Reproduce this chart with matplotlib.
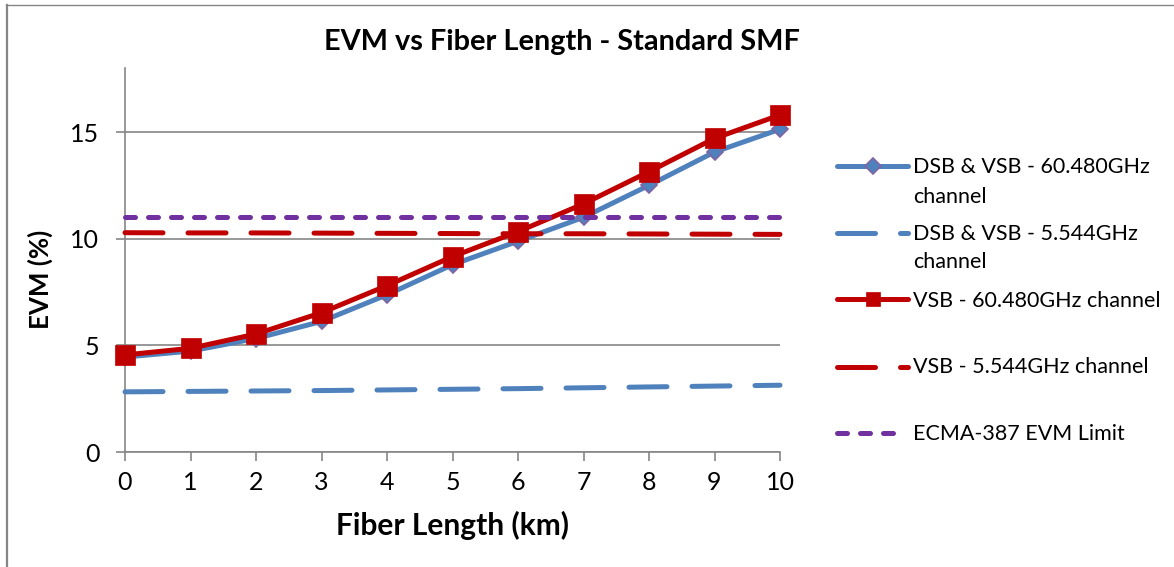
import matplotlib
matplotlib.use("Agg")
import matplotlib.pyplot as plt
from matplotlib.lines import Line2D

# ---- data -------------------------------------------------------------
fiber_km = [0, 1, 2, 3, 4, 5, 6, 7, 8, 9, 10]
evm_dsb_vsb_60g = [4.45, 4.73, 5.32, 6.12, 7.37, 8.78, 9.88, 11.00, 12.50, 14.06, 15.13]
evm_dsb_vsb_5g = [2.82, 2.84, 2.86, 2.88, 2.91, 2.94, 2.97, 3.01, 3.05, 3.09, 3.13]
evm_vsb_60g = [4.55, 4.86, 5.53, 6.53, 7.80, 9.16, 10.33, 11.63, 13.14, 14.70, 15.80]
evm_vsb_5g = [10.28, 10.27, 10.27, 10.26, 10.25, 10.24, 10.23, 10.23, 10.22, 10.21, 10.20]
ecma_limit = [11.0, 11.0, 11.0, 11.0, 11.0, 11.0, 11.0, 11.0, 11.0, 11.0, 11.0]

series_labels = [
    ["DSB & VSB - 60.480GHz", "channel"],
    ["DSB & VSB - 5.544GHz", "channel"],
    ["VSB - 60.480GHz channel"],
    ["VSB - 5.544GHz channel"],
    ["ECMA-387 EVM Limit"],
]
x_ticks = [0, 1, 2, 3, 4, 5, 6, 7, 8, 9, 10]
y_ticks = [0, 5, 10, 15]

title = "EVM vs Fiber Length - Standard SMF"
x_label = "Fiber Length (km)"
y_label = "EVM (%)"

# ---- style ------------------------------------------------------------
BLUE = "#4F81BD"
RED = "#C00000"
PURPLE = "#7030A0"
DIAMOND_EDGE = "#8064A2"
GRID = "#868686"
FONT = ["Lato", "DejaVu Sans"]

W, H = 1174, 567
plt.rcParams["font.family"] = FONT

fig = plt.figure(figsize=(W / 100, H / 100), dpi=100)


def fx(px):
    return px / W


def fy(py):
    return 1 - py / H


ax = fig.add_axes([fx(125), fy(452), fx(780) - fx(125), fy(68) - fy(452)])

LW = 3.6
long_dash = (7.6, 5.0)
short_dash = (2.0, 2.6)

styles = [
    dict(color=BLUE, lw=LW, marker="D", ms=8, mfc=BLUE, mec=DIAMOND_EDGE, mew=1.2,
         solid_capstyle="round", solid_joinstyle="round"),
    dict(color=BLUE, lw=LW, dashes=long_dash, dash_capstyle="round"),
    dict(color=RED, lw=LW, marker="s", ms=14, mfc=RED, mec=RED, mew=0.5,
         solid_capstyle="round", solid_joinstyle="round"),
    dict(color=RED, lw=LW, dashes=long_dash, dash_capstyle="round"),
    dict(color=PURPLE, lw=LW, dashes=short_dash, dash_capstyle="round"),
]
legend_marker_size = [8, None, 10.5, None, None]
series = [evm_dsb_vsb_60g, evm_dsb_vsb_5g, evm_vsb_60g, evm_vsb_5g, ecma_limit]

for i, (vals, st) in enumerate(zip(series, styles)):
    ax.plot(fiber_km, vals, clip_on=False, zorder=3 + i, **st)

ax.set_xlim(0, 10)
ax.set_ylim(0, 18)
ax.set_xticks(x_ticks)
ax.set_yticks(y_ticks)
ax.set_xticklabels([str(v) for v in x_ticks])
ax.set_yticklabels([str(v) for v in y_ticks])

for s in ["top", "right"]:
    ax.spines[s].set_visible(False)
for s in ["left", "bottom"]:
    ax.spines[s].set_color(GRID)
    ax.spines[s].set_linewidth(1.2)

ax.yaxis.grid(True, color=GRID, lw=1.2)
ax.set_axisbelow(True)
ax.tick_params(axis="both", direction="out", length=6.5, width=1.2, color=GRID,
               labelsize=18, labelcolor="black")
ax.tick_params(axis="x", pad=7)
ax.tick_params(axis="y", pad=12)

# titles and axis labels
fig.text(fx(562), fy(42), title, ha="center", va="center", fontsize=20.8,
         fontweight="bold")
fig.text(fx(452), fy(525), x_label, ha="center", va="center", fontsize=21.5,
         fontweight="bold")
fig.text(fx(40), fy(279), y_label, ha="center", va="center", fontsize=18.6,
         fontweight="bold", rotation=90)

# legend
handle_rows = [166, 233, 299, 367, 433]
text_baselines = [[173, 203], [240, 268], [307], [373], [440]]
handle_ends = [908, 908, 908, 908, 900]
for st, hy, lines, bases, xend, lms in zip(styles, handle_rows, series_labels,
                                            text_baselines, handle_ends,
                                            legend_marker_size):
    st_line = {k: v for k, v in st.items() if k not in ("marker", "ms", "mfc", "mec", "mew")}
    fig.add_artist(Line2D([fx(837), fx(xend)], [fy(hy), fy(hy)],
                          transform=fig.transFigure, **st_line))
    if "marker" in st:
        fig.add_artist(Line2D([fx(872.5)], [fy(hy)], transform=fig.transFigure,
                              linestyle="none", marker=st["marker"], ms=lms,
                              mfc=st["mfc"], mec=st["mec"], mew=st["mew"]))
    for txt, b in zip(lines, bases):
        fig.text(fx(913), fy(b), txt, ha="left", va="baseline", fontsize=15.5)

# chart frame
fig.add_artist(Line2D([fx(6), fx(W + 5)], [fy(5), fy(5)], transform=fig.transFigure,
                      color=GRID, lw=1.0))
fig.add_artist(Line2D([fx(7), fx(7)], [fy(5), fy(H + 5)], transform=fig.transFigure,
                      color=GRID, lw=1.6))

fig.savefig("out.png", dpi=100)
